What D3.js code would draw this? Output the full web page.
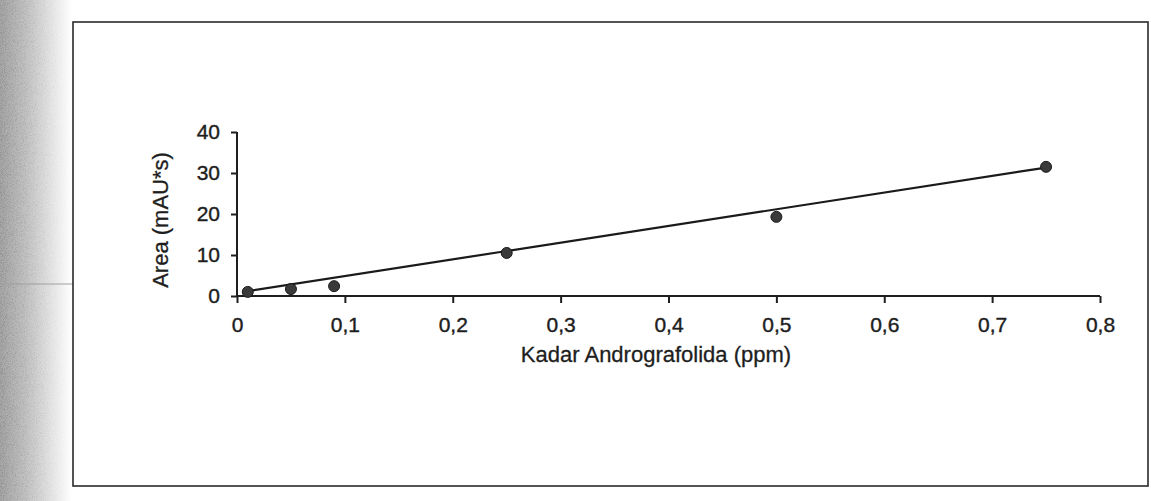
<!DOCTYPE html>
<html>
<head>
<meta charset="utf-8">
<script src="https://cdn.jsdelivr.net/npm/d3@7"></script>
<style>
  html, body { margin: 0; padding: 0; background: #fff; }
  svg { display: block; }
  text { font-family: "Liberation Sans", Arial, sans-serif; fill: #1e1e1e; }
</style>
</head>
<body>
<script>
// Calibration data: andrographolide concentration vs. peak area
const concentration = [0.01, 0.05, 0.09, 0.25, 0.5, 0.75];
const area = [1.0, 1.7, 2.4, 10.5, 19.3, 31.5];
// Linear trend line as printed: area = slope * concentration + intercept
const trendSlope = [40.7];
const trendIntercept = [0.8];
const xTicks = [0, 0.1, 0.2, 0.3, 0.4, 0.5, 0.6, 0.7, 0.8];
const yTicks = [0, 10, 20, 30, 40];
const xLabel = "Kadar Andrografolida (ppm)";
const yLabel = "Area (mAU*s)";

const W = 1151, H = 501;
const svg = d3.select("body").append("svg").attr("width", W).attr("height", H);

// Scanned-page shading on the left edge
const defs = svg.append("defs");
const grad = defs.append("linearGradient").attr("id", "edge").attr("x1", 0).attr("x2", 1);
grad.append("stop").attr("offset", 0).attr("stop-color", "#a6a6a6");
grad.append("stop").attr("offset", 0.35).attr("stop-color", "#c2c2c2");
grad.append("stop").attr("offset", 0.75).attr("stop-color", "#e8e8e8");
grad.append("stop").attr("offset", 1).attr("stop-color", "#ffffff");
const fade = defs.append("linearGradient").attr("id", "fade").attr("x1", 0).attr("x2", 1);
fade.append("stop").attr("offset", 0).attr("stop-color", "#fff");
fade.append("stop").attr("offset", 1).attr("stop-color", "#000");
defs.append("mask").attr("id", "fadeMask")
  .append("rect").attr("x", 0).attr("y", 0).attr("width", 72).attr("height", H).attr("fill", "url(#fade)");
const noise = defs.append("filter").attr("id", "grain");
noise.append("feTurbulence").attr("type", "fractalNoise").attr("baseFrequency", 1.1).attr("numOctaves", 2).attr("result", "n");
noise.append("feColorMatrix").attr("in", "n").attr("type", "matrix")
  .attr("values", "0 0 0 0 0  0 0 0 0 0  0 0 0 0 0  0 0 0 -1.4 0.8").attr("result", "a");
noise.append("feComposite").attr("in", "a").attr("in2", "SourceGraphic").attr("operator", "in");

svg.append("rect").attr("x", 0).attr("y", 0).attr("width", 72).attr("height", H).attr("fill", "url(#edge)");
svg.append("rect").attr("x", 0).attr("y", 0).attr("width", 72).attr("height", H)
  .attr("fill", "#fff").attr("filter", "url(#grain)").attr("mask", "url(#fadeMask)").attr("opacity", 0.3);
svg.append("line").attr("x1", 0).attr("x2", 73).attr("y1", 284).attr("y2", 284)
  .attr("stroke", "#a0a0a0").attr("stroke-width", 1);

// Chart frame
svg.append("rect").attr("x", 73).attr("y", 22).attr("width", 1075).attr("height", 464)
  .attr("fill", "#fff").attr("stroke", "#2a2a2a").attr("stroke-width", 1.6);

const x = d3.scaleLinear().domain([0, 0.8]).range([237, 1100]);
const y = d3.scaleLinear().domain([0, 40]).range([296, 132]);

// Axes
const gx = svg.append("g").attr("transform", `translate(0,${y(0)})`)
  .call(d3.axisBottom(x).tickValues(xTicks).tickSize(7).tickPadding(14)
    .tickFormat(d => d3.format("")(d).replace(".", ",")));
const gy = svg.append("g").attr("transform", `translate(${x(0)},0)`)
  .call(d3.axisLeft(y).tickValues(yTicks).tickSize(6).tickPadding(11));
[gx, gy].forEach(g => {
  g.select(".domain").attr("stroke", "#1e1e1e").attr("stroke-width", 2);
  g.selectAll(".tick line").attr("stroke", "#1e1e1e").attr("stroke-width", 2);
  g.selectAll(".tick text").attr("font-size", 21).attr("fill", "#1e1e1e")
    .attr("stroke", "#1e1e1e").attr("stroke-width", 0.4)
    .attr("font-family", "Liberation Sans, Arial, sans-serif");
});
gx.select(".domain").attr("d", `M${x(0)},0H${x(0.8)}`);
gy.select(".domain").attr("d", `M0,${y(40)}V${y(0)}`);

// Axis titles
svg.append("text").attr("x", 656).attr("y", 362).attr("text-anchor", "middle")
  .attr("font-size", 22).attr("stroke", "#1e1e1e").attr("stroke-width", 0.3).text(xLabel);
svg.append("text").attr("transform", `translate(168,${y(20) + 6}) rotate(-90)`)
  .attr("text-anchor", "middle").attr("font-size", 22)
  .attr("stroke", "#1e1e1e").attr("stroke-width", 0.3).text(yLabel);

// Trend line over the measured range
const xr = d3.extent(concentration);
svg.append("path")
  .attr("d", d3.line().x(d => x(d)).y(d => y(trendSlope[0] * d + trendIntercept[0]))(xr))
  .attr("stroke", "#1a1a1a").attr("stroke-width", 2.2).attr("fill", "none");

// Measured points
svg.append("g").selectAll("circle").data(concentration).join("circle")
  .attr("cx", d => x(d)).attr("cy", (d, i) => y(area[i])).attr("r", 5.5)
  .attr("fill", "#3a3a3a").attr("stroke", "#1a1a1a").attr("stroke-width", 1);
</script>
</body>
</html>
